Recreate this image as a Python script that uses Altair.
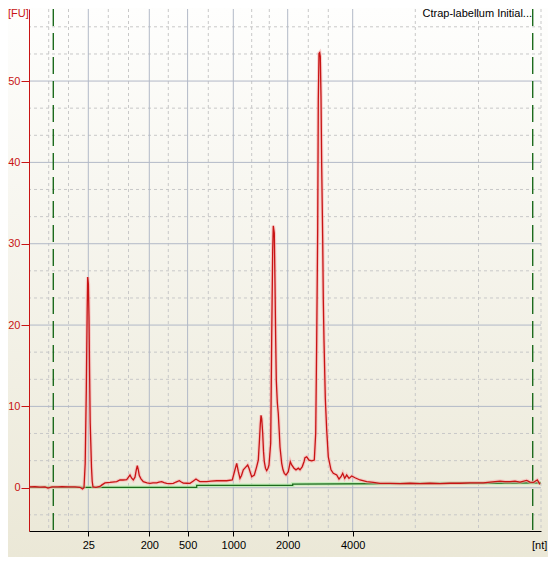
import altair as alt
import pandas as pd

# ---------------- data (migration time in s, fluorescence in FU) ----------------
trace_time = [
    18.00, 18.60, 19.10, 19.60, 19.90, 20.30, 20.90, 21.30, 21.90, 22.60,
    23.10, 23.35, 23.50, 23.62, 23.73, 23.82, 23.87, 23.94, 24.00, 24.06,
    24.12, 24.18, 24.25, 24.32, 24.40, 24.70, 25.10, 25.30, 25.60, 26.10,
    26.77, 27.10, 27.40, 27.77, 27.95, 28.10, 28.25, 28.43, 28.60, 28.73,
    28.83, 28.93, 29.03, 29.20, 29.43, 29.80, 30.10, 30.40, 30.77, 31.00,
    31.27, 31.50, 31.77, 32.10, 32.43, 32.70, 33.03, 33.23, 33.43, 33.80,
    34.10, 34.40, 34.70, 34.90, 35.10, 35.40, 35.77, 36.20, 36.77, 37.20,
    37.77, 38.33, 38.55, 38.77, 38.93, 39.10, 39.25, 39.43, 39.65, 39.87,
    40.00, 40.15, 40.27, 40.53, 40.77, 40.93, 41.03, 41.13, 41.20, 41.27,
    41.37, 41.45, 41.53, 41.65, 41.77, 41.90, 42.00, 42.17, 42.27, 42.37,
    42.43, 42.53, 42.60, 42.67, 42.73, 42.83, 42.93, 43.02, 43.10, 43.27,
    43.40, 43.53, 43.70, 43.93, 44.13, 44.27, 44.50, 44.70, 44.93, 45.10,
    45.33, 45.50, 45.60, 45.77, 46.00, 46.27, 46.53, 46.67, 46.77, 46.87,
    46.93, 47.00, 47.07, 47.13, 47.20, 47.27, 47.37, 47.43, 47.50, 47.63,
    47.77, 47.93, 48.20, 48.43, 48.77, 49.00, 49.20, 49.37, 49.57, 49.77,
    50.00, 50.27, 50.60, 51.10, 51.77, 52.43, 53.10, 54.10, 55.10, 56.10,
    57.10, 58.10, 59.10, 60.10, 61.10, 62.10, 63.43, 64.10, 65.10, 65.60,
    66.10, 66.60, 67.10, 67.77, 68.10, 68.43, 68.83, 69.10,
]
trace_fu = [
    0.10, 0.12, 0.08, 0.10, -0.05, 0.10, 0.10, 0.12, 0.10, 0.10,
    0.05, -0.15, 0.00, 3.0, 12.0, 22.0, 25.9, 25.0, 21.0, 14.0,
    8.0, 5.5, 2.5, 0.8, 0.10, 0.05, 0.15, 0.35, 0.60, 0.65,
    0.75, 0.95, 0.95, 1.00, 1.30, 1.56, 1.20, 0.95, 1.30, 2.20,
    2.70, 2.20, 1.50, 1.10, 0.74, 0.60, 0.54, 0.60, 0.60, 0.70,
    0.74, 0.62, 0.54, 0.50, 0.54, 0.70, 0.86, 0.70, 0.57, 0.55,
    0.54, 0.80, 1.07, 0.90, 0.74, 0.74, 0.74, 0.80, 0.86, 0.86,
    0.86, 0.95, 2.00, 3.00, 2.00, 1.15, 1.50, 2.20, 2.50, 2.80,
    2.40, 1.80, 1.35, 1.56, 2.60, 3.40, 5.50, 7.80, 8.90, 8.50,
    6.70, 4.50, 3.20, 2.40, 2.10, 2.40, 2.80, 5.50, 18.4, 29.2,
    32.2, 31.3, 25.1, 18.1, 13.2, 10.5, 9.1, 7.0, 5.0, 3.0,
    2.2, 1.77, 1.56, 1.97, 3.2, 2.8, 2.4, 2.2, 2.4, 2.2,
    2.6, 3.2, 3.7, 3.8, 3.4, 3.3, 3.4, 6.7, 18.1, 31.9,
    47.7, 53.4, 53.5, 53.0, 48.1, 39.5, 30.5, 23.1, 18.1, 11.0,
    7.1, 3.8, 2.2, 1.77, 1.56, 1.07, 1.35, 1.77, 1.15, 1.56,
    1.15, 1.44, 1.23, 0.95, 0.74, 0.66, 0.54, 0.54, 0.50, 0.55,
    0.50, 0.55, 0.50, 0.55, 0.55, 0.60, 0.60, 0.70, 0.82, 0.75,
    0.74, 0.80, 0.70, 0.90, 0.70, 0.65, 0.95, 0.42,
]

baseline_time = [18.00, 34.77, 34.77, 44.37, 44.37, 69.20]
baseline_fu = [0.05, 0.05, 0.30, 0.30, 0.45, 0.60]

ladder_labels = ["25", "200", "500", "1000", "2000", "4000"]
ladder_time = [23.93, 30.03, 33.86, 38.43, 43.87, 50.37]
minor_time = [19.97, 21.95, 25.93, 27.95, 31.93, 35.93, 40.27, 42.03,
              45.93, 47.93, 56.63, 62.95, 69.20]
marker_time = [20.43, 68.37]

fu_major = [0, 10, 20, 30, 40, 50]
fu_minor = [-3.33, 3.33, 6.67, 13.33, 16.67, 23.33, 26.67, 33.33, 36.67,
            43.33, 46.67, 53.33, 56.67]

# ---------------- styling ----------------
FONT = "Liberation Sans"
GRID_SOLID = "#b2b9c7"
GRID_DASH = "#c8c8c8"
RED = "#c81414"
GREEN = "#1d6b1d"

x_scale = alt.Scale(domain=[18.0, 69.2], nice=False, zero=False)
y_scale = alt.Scale(domain=[-5.32, 58.86], nice=False, zero=False)

trace_df = pd.DataFrame({"t": trace_time, "fu": trace_fu})
base_df = pd.DataFrame({"t": baseline_time, "fu": baseline_fu,
                        "i": list(range(len(baseline_time)))})
one = pd.DataFrame({"k": [0]})

label_expr = "[{}][indexof([{}], datum.value)]".format(
    ",".join("'%s'" % s for s in ladder_labels),
    ",".join(str(v) for v in ladder_time),
)

x_axis = alt.Axis(values=ladder_time, labelExpr=label_expr, grid=False,
                  domainColor="black", tickColor="black", tickSize=5,
                  labelColor="black", labelFont=FONT, labelFontSize=11,
                  labelPadding=3, title=None, zindex=1, labelFlush=False,
                  labelOverlap=False)
y_axis = alt.Axis(values=fu_major, grid=False, domainColor=RED,
                  tickColor=RED, labelColor=RED, tickSize=8, labelPadding=1,
                  labelFont=FONT, labelFontSize=11, title=None, zindex=1,
                  format="d")

X = alt.X("t:Q", scale=x_scale, axis=x_axis)
Y = alt.Y("fu:Q", scale=y_scale, axis=y_axis)

bg = alt.Chart(one).mark_rect(
    fill=alt.Gradient(
        gradient="linear",
        stops=[alt.GradientStop(offset=0, color="#fefefd"),
               alt.GradientStop(offset=1, color="#ebe8d7")],
        x1=0, x2=0, y1=0, y2=1,
    )
).encode(x=alt.value(-21), x2=alt.value(519), y=alt.value(-1), y2=alt.value(548))

h_minor = alt.Chart(pd.DataFrame({"fu": fu_minor})).mark_rule(
    color=GRID_DASH, strokeDash=[3, 3], strokeWidth=1
).encode(y=Y)
v_minor = alt.Chart(pd.DataFrame({"t": minor_time})).mark_rule(
    color=GRID_DASH, strokeDash=[3, 3], strokeWidth=1
).encode(x=X)
h_major = alt.Chart(pd.DataFrame({"fu": fu_major})).mark_rule(
    color=GRID_SOLID, strokeWidth=1
).encode(y=Y)
v_major = alt.Chart(pd.DataFrame({"t": ladder_time})).mark_rule(
    color=GRID_SOLID, strokeWidth=1
).encode(x=X)

markers = alt.Chart(pd.DataFrame({"t": marker_time})).mark_rule(
    color=GREEN, strokeDash=[17, 7], strokeWidth=1.4
).encode(x=X)

base_halo = alt.Chart(base_df).mark_line(
    color="#b9efb0", strokeWidth=3.5, opacity=0.8
).encode(x=X, y=Y, order=alt.Order("i:Q"))
base_line = alt.Chart(base_df).mark_line(
    color=GREEN, strokeWidth=1.3
).encode(x=X, y=Y, order=alt.Order("i:Q"))

trace_halo = alt.Chart(trace_df).mark_line(
    color="#f6b0b0", strokeWidth=3.5, opacity=0.6
).encode(x=X, y=Y)
trace = alt.Chart(trace_df).mark_line(
    color=RED, strokeWidth=1.3
).encode(x=X, y=Y)

title_txt = alt.Chart(one).mark_text(
    text="Ctrap-labellum Initial...", align="right", baseline="alphabetic",
    font=FONT, fontSize=11, color="black"
).encode(x=alt.value(503), y=alt.value(8))
fu_txt = alt.Chart(one).mark_text(
    text="[FU]", align="left", baseline="alphabetic",
    font=FONT, fontSize=11, color=RED
).encode(x=alt.value(-21), y=alt.value(8))
nt_txt = alt.Chart(one).mark_text(
    text="[nt]", align="left", baseline="alphabetic",
    font=FONT, fontSize=11, color="black"
).encode(x=alt.value(503), y=alt.value(539.5))

chart = alt.layer(
    bg, h_minor, v_minor, h_major, v_major, markers,
    base_halo, base_line, trace_halo, trace,
    title_txt, fu_txt, nt_txt,
).properties(
    width=512, height=522,
    padding={"left": 21, "top": 1, "right": 7, "bottom": 26},
    autosize=alt.AutoSizeParams(type="none"),
).configure(background="#fefefd").configure_view(stroke=None)

chart.save("out.html", embed_options={"renderer": "svg", "actions": False})
